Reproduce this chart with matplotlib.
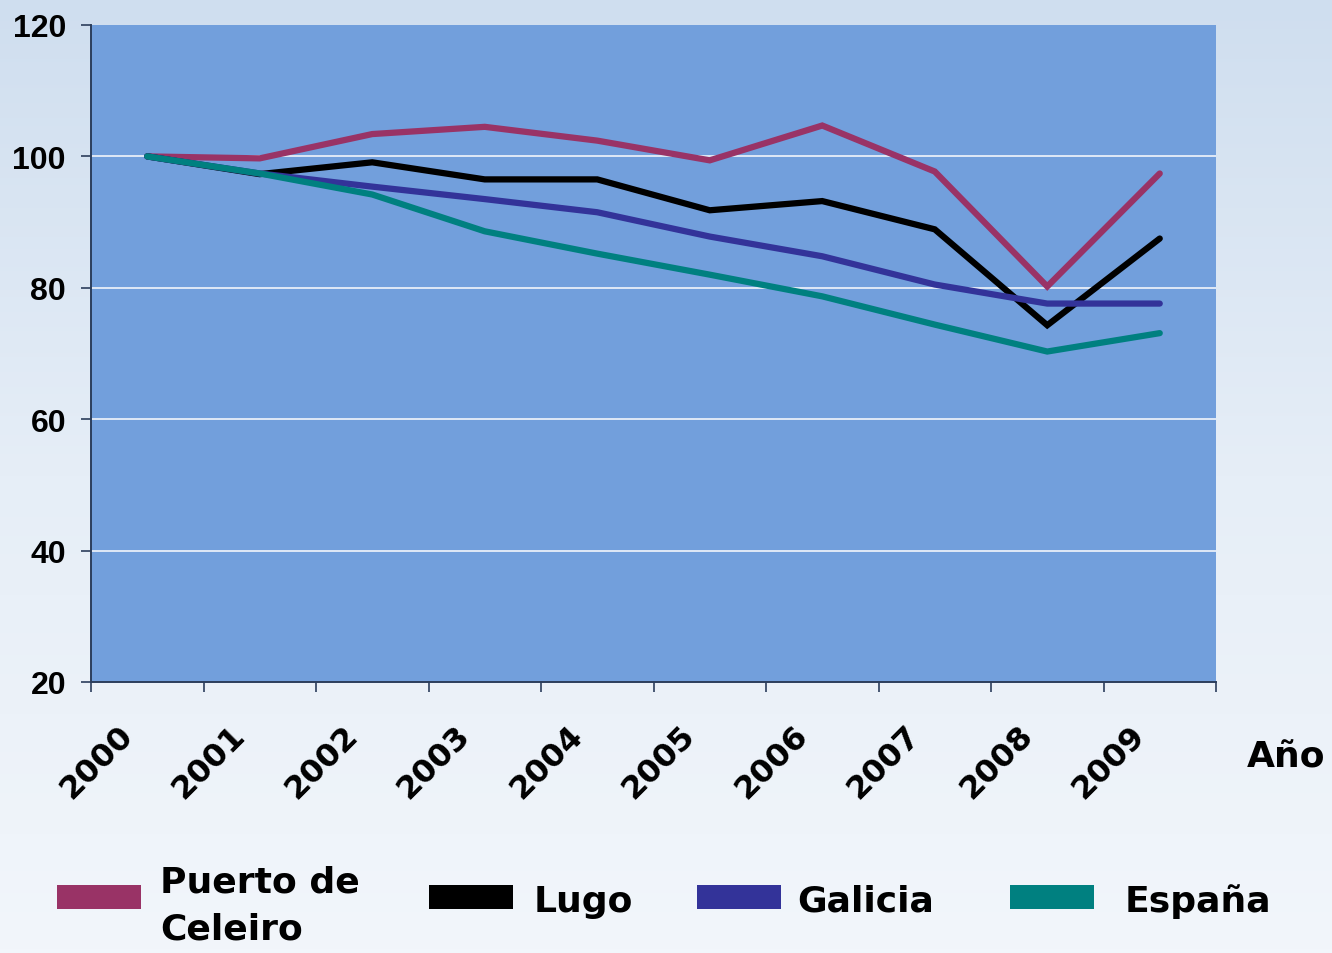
import numpy as np
import matplotlib
matplotlib.use("Agg")
import matplotlib.pyplot as plt
from matplotlib.patches import Rectangle
from matplotlib.transforms import ScaledTranslation
from matplotlib.colors import LinearSegmentedColormap

years = ["2000", "2001", "2002", "2003", "2004", "2005", "2006", "2007", "2008", "2009"]
series_names = ["Puerto de\nCeleiro", "Lugo", "Galicia", "España"]
series_colors = ["#993366", "#000000", "#333399", "#008080"]

puerto_celeiro = [100.0, 99.7, 103.4, 104.5, 102.4, 99.4, 104.7, 97.7, 80.2, 97.4]
lugo = [100.0, 97.3, 99.1, 96.5, 96.5, 91.8, 93.2, 88.9, 74.3, 87.5]
galicia = [100.0, 97.4, 95.4, 93.5, 91.5, 87.8, 84.8, 80.5, 77.6, 77.6]
espana = [100.0, 97.4, 94.2, 88.6, 85.2, 82.0, 78.7, 74.4, 70.3, 73.1]

y_ticks = [20, 40, 60, 80, 100, 120]
x_title = "Año"

W, H, DPI = 1332, 954, 100
fig = plt.figure(figsize=(W / DPI, H / DPI), dpi=DPI)

# soft vertical background gradient
bg = fig.add_axes([0, 0, 1, 1], zorder=-10)
grad = np.linspace(0, 1, 256).reshape(-1, 1)
cmap = LinearSegmentedColormap.from_list("bg", ["#cfdeef", "#e6eef7", "#f2f6fb"])
bg.imshow(grad, aspect="auto", cmap=cmap, extent=[0, 1, 0, 1], origin="upper")
bg.set_axis_off()

left, right, top, bottom = 91 / W, 1216 / W, 1 - 26 / H, 1 - 683 / H
ax = fig.add_axes([left, bottom, right - left, top - bottom])
ax.set_facecolor("#729fdc")

x = np.arange(len(years))
for name, vals, col in zip(series_names, [puerto_celeiro, lugo, galicia, espana], series_colors):
    ax.plot(x, vals, color=col, lw=4.5, solid_capstyle="round",
            solid_joinstyle="miter", zorder=3, label=name)

ax.set_xlim(-0.5, len(years) - 0.5)
ax.set_ylim(y_ticks[0], y_ticks[-1])

# horizontal gridlines
for v in y_ticks[1:-1]:
    ax.axhline(v, color="#e8eef8", lw=1.3, zorder=1)

for s in ["top", "right"]:
    ax.spines[s].set_visible(False)
for s in ["left", "bottom"]:
    ax.spines[s].set_color("#2c3e5c")
    ax.spines[s].set_linewidth(1.4)

ax.set_yticks(y_ticks)
ax.set_yticklabels([str(v) for v in y_ticks], fontsize=23, fontweight="bold",
                   family=["Liberation Sans", "DejaVu Sans"])
ax.tick_params(axis="y", length=7, width=1.2, color="#2c3e5c", pad=11)

# tick marks on category boundaries, labels at category centres
ax.set_xticks(np.arange(-0.5, len(years), 1.0), minor=True)
ax.tick_params(axis="x", which="minor", length=7, width=1.2, color="#2c3e5c")
ax.set_xticks(x)
ax.set_xticklabels(years, rotation=45, ha="right", va="top",
                   fontsize=23, fontweight="bold")
ax.tick_params(axis="x", which="major", length=0, pad=27)
for lbl in ax.get_xticklabels():
    lbl.set_transform(lbl.get_transform() + ScaledTranslation(-8 / DPI, 0, fig.dpi_scale_trans))

fig.text(1247 / W, 1 - 758 / H, x_title, fontsize=26, fontweight="bold",
         ha="left", va="center")

# legend row beneath the plot
handle_x = [57, 429, 697, 1010]
text_x = [160, 534, 797, 1125]
for name, col, hx, tx in zip(series_names, series_colors, handle_x, text_x):
    fig.patches.append(Rectangle((hx / W, 1 - 910 / H), 84 / W, 24 / H,
                                 transform=fig.transFigure, facecolor=col,
                                 edgecolor="none"))
    if "\n" in name:
        fig.text(tx / W, 1 - 866 / H, name, fontsize=26, fontweight="bold",
                 ha="left", va="top", linespacing=1.45)
    else:
        fig.text(tx / W, 1 - 912 / H, name, fontsize=26, fontweight="bold",
                 ha="left", va="baseline")

fig.savefig("out.png", dpi=DPI)
